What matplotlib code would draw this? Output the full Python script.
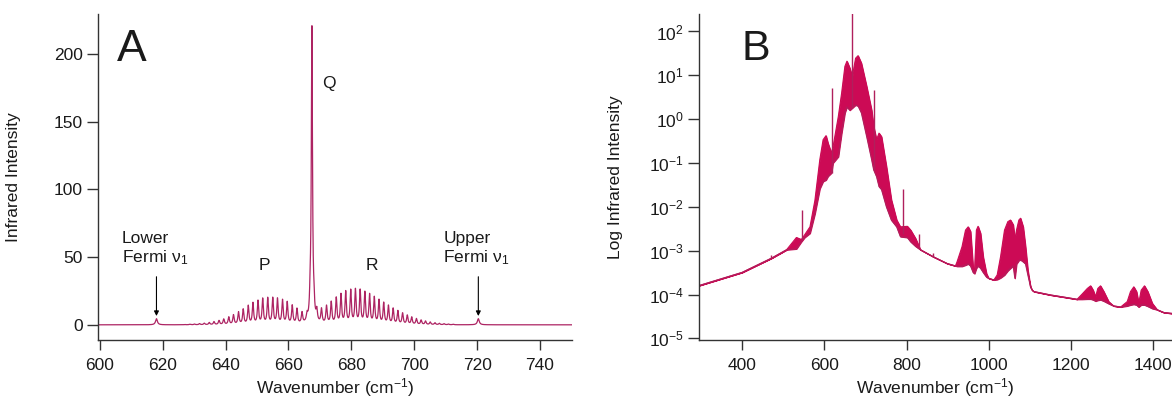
import matplotlib
matplotlib.use("Agg")
import matplotlib.pyplot as plt
import numpy as np
from matplotlib.ticker import NullLocator

plt.rcParams['font.family'] = ['Liberation Sans', 'DejaVu Sans']
plt.rcParams['mathtext.fontset'] = 'custom'
plt.rcParams['mathtext.rm'] = 'Liberation Sans'
plt.rcParams['mathtext.it'] = 'Liberation Sans:italic'

# ---- panel A: line list ----
p_wn = [665.9, 664.3, 662.7, 661.2, 659.6, 658.1, 656.5, 655.0, 653.4, 651.8,
        650.3, 648.7, 647.2, 645.6, 644.1, 642.5, 641.0, 639.4, 637.9, 636.3,
        634.8, 633.2, 631.7, 630.1, 628.6, 627.0]
p_int = [5.0, 8.0, 11.0, 13.5, 16.0, 17.5, 18.5, 19.0, 19.0, 18.5,
         17.0, 15.5, 13.5, 11.0, 9.0, 7.0, 5.5, 4.0, 3.0, 2.2,
         1.6, 1.1, 0.8, 0.5, 0.35, 0.2]
r_wn = [669.0, 670.5, 672.1, 673.6, 675.2, 676.7, 678.2, 679.8, 681.3, 682.8,
        684.3, 685.8, 687.3, 688.8, 690.3, 691.8, 693.3, 694.8, 696.3, 697.8,
        699.2, 700.7, 702.2, 703.6, 705.1, 706.6, 708.0, 709.5, 710.9, 712.4]
r_int = [8.0, 10.5, 13.0, 16.0, 19.0, 21.5, 23.5, 24.5, 25.0, 24.5,
         23.0, 21.5, 19.5, 17.5, 15.5, 13.5, 11.5, 9.8, 8.2, 6.7,
         5.4, 4.3, 3.3, 2.6, 1.9, 1.4, 1.0, 0.75, 0.5, 0.35]
q_wn = [666.9, 667.45, 668.1]
q_int = [12.0, 218.0, 9.0]
fermi_wn = [618.0, 720.4]
fermi_int = [4.5, 4.5]
a_xticks = [600, 620, 640, 660, 680, 700, 720, 740]
a_yticks = [0, 50, 100, 150, 200]

# ---- panel B: envelope of the dense log spectrum ----
b_wn = [295, 400, 472, 508, 532, 544, 552, 565, 577, 589, 597, 604, 609, 617, 621,
        634, 642, 650, 655, 662, 668, 676, 682, 690, 703, 715, 720, 727, 733, 739,
        751, 763, 776, 785, 802, 810, 822, 834, 866, 899, 919, 923, 935, 943.5, 950,
        955.7, 962, 965.4, 970, 974, 980, 986.5, 994.6, 1000, 1012.5, 1020.6, 1028.7,
        1038.4, 1046.5, 1053, 1059.5, 1063.6, 1067.6, 1073.3, 1077.4, 1083.8, 1089.5,
        1095.2, 1101.7, 1105.7, 1110, 1150, 1191, 1215, 1227, 1240, 1248, 1254, 1260,
        1265.5, 1272, 1280, 1292, 1304, 1321, 1337, 1345, 1353, 1359.6, 1365, 1371,
        1379, 1387, 1398, 1410, 1426, 1447]
b_hi = [1.6e-4, 3.2e-4, 6.8e-4, 1.05e-3, 2.0e-3, 1.8e-3, 2.3e-3, 3.5e-3, 1.4e-2, 0.12,
        0.34, 0.42, 0.28, 0.17, 0.23, 1.15, 3.9, 16, 21, 14.5, 9.3, 24.5, 28, 19, 5.5,
        1.6, 0.68, 0.34, 0.48, 0.40, 0.083, 0.0145, 5e-3, 3.5e-3, 3.6e-3, 2.95e-3,
        1.9e-3, 1.05e-3, 7.2e-4, 5.1e-4, 4.5e-4, 5.6e-4, 1.23e-3, 2.95e-3, 3.5e-3,
        2.75e-3, 4.0e-4, 3.6e-4, 2.95e-3, 3.6e-3, 2.5e-3, 7.2e-4, 3.0e-4, 2.35e-4,
        2.15e-4, 2.8e-4, 7.2e-4, 2.95e-3, 4.6e-3, 5.0e-3, 3.9e-3, 1.8e-3, 2.95e-3,
        5.0e-3, 5.5e-3, 3.5e-3, 1.23e-3, 3.6e-4, 1.5e-4, 1.26e-4, 1.17e-4, 9.8e-5,
        8.5e-5, 7.8e-5, 1.02e-4, 1.38e-4, 1.58e-4, 1.26e-4, 8.9e-5, 1.38e-4, 1.58e-4,
        1.17e-4, 6.9e-5, 5.5e-5, 5.2e-5, 6.9e-5, 1.17e-4, 1.5e-4, 1.17e-4, 6.3e-5,
        1.26e-4, 1.58e-4, 1.17e-4, 6.3e-5, 4.5e-5, 3.9e-5, 3.7e-5]
b_lo = [1.6e-4, 3.2e-4, 6.8e-4, 1.05e-3, 1.1e-3, 1.6e-3, 2.0e-3, 2.5e-3, 7.0e-3, 0.026,
        0.038, 0.041, 0.05, 0.059, 0.1, 0.14, 0.48, 1.4, 1.9, 1.6, 1.8, 2.1, 2.0, 1.4,
        0.4, 0.12, 0.07, 0.049, 0.029, 0.025, 0.01, 5.0e-3, 3.5e-3, 2.1e-3, 2.0e-3,
        1.6e-3, 1.26e-3, 1.05e-3, 7.2e-4, 5.1e-4, 4.5e-4, 4.4e-4, 4.4e-4, 4.7e-4,
        5.0e-4, 4.5e-4, 3.2e-4, 3.0e-4, 4.0e-4, 4.5e-4, 4.0e-4, 3.2e-4, 2.5e-4,
        2.35e-4, 2.15e-4, 2.2e-4, 2.4e-4, 2.8e-4, 3.5e-4, 4.0e-4, 4.5e-4, 2.35e-4,
        5.0e-4, 6.0e-4, 6.2e-4, 5.6e-4, 5.0e-4, 2.8e-4, 1.5e-4, 1.26e-4, 1.17e-4,
        9.8e-5, 8.5e-5, 7.8e-5, 7.8e-5, 7.9e-5, 7.9e-5, 7.6e-5, 7.1e-5, 7.4e-5, 7.6e-5,
        7.1e-5, 6.2e-5, 5.5e-5, 5.2e-5, 5.5e-5, 5.8e-5, 6.0e-5, 5.8e-5, 5.2e-5, 5.8e-5,
        5.8e-5, 5.4e-5, 4.8e-5, 4.5e-5, 3.9e-5, 3.7e-5]
spike_wn = [471, 545, 618, 667.5, 720, 791, 830, 865]
spike_base = [6.8e-4, 1.8e-3, 0.06, 1.8, 0.07, 2.4e-3, 1.2e-3, 7.2e-4]
spike_top = [8.0e-4, 8.5e-3, 5.1, 300, 4.7, 0.025, 2.4e-3, 9.0e-4]
b_xticks = [400, 600, 800, 1000, 1200, 1400]
b_yticks = [1e-5, 1e-4, 1e-3, 1e-2, 1e-1, 1e0, 1e1, 1e2]
b_ylabels = ['10$^{-5}$', '10$^{-4}$', '10$^{-3}$', '10$^{-2}$', '10$^{-1}$',
             '10$^{0}$', '10$^{1}$', '10$^{2}$']

line_a = '#ad2463'
fill_b = '#cc0a55'
spike_c = '#b0205c'
ink = '#1a1a1a'
fs = 12.5

fig = plt.figure(figsize=(11.72, 4.04), dpi=100)
ax1 = fig.add_axes([98 / 1172, 1 - 340 / 404, 474 / 1172, 326 / 404])
ax2 = fig.add_axes([699 / 1172, 1 - 340 / 404, 473 / 1172, 326 / 404])

# panel A trace: each read line drawn as a narrow Lorentzian
wn = np.arange(599.0, 751.0, 0.02)
spec = np.zeros_like(wn)
for centers, heights, hw in [(p_wn, p_int, 0.25), (r_wn, r_int, 0.25),
                             (q_wn, q_int, 0.22), (fermi_wn, fermi_int, 0.35)]:
    for c, h in zip(centers, heights):
        spec += h / (1 + ((wn - c) / hw) ** 2)
ax1.plot(wn, spec, color=line_a, lw=0.9)

ax1.set_xlim(599.4, 750.2)
ax1.set_ylim(-11.2, 229.5)
ax1.set_xticks(a_xticks)
ax1.set_yticks(a_yticks)
ax1.set_ylabel('Infrared Intensity', fontsize=fs, color=ink)
ax1.set_xlabel('Wavenumber (cm$^{-1}$)', fontsize=fs, color=ink)
ax1.yaxis.set_label_coords(-0.162, 0.5)
ax1.xaxis.set_label_coords(0.5, -0.112)

ax1.text(0.04, 0.955, 'A', transform=ax1.transAxes, fontsize=32, va='top', ha='left', color=ink)
ax1.text(670.8, 178.5, 'Q', fontsize=fs, va='center', ha='left', color=ink)
ax1.text(652.2, 43.5, 'P', fontsize=fs, va='center', ha='center', color=ink)
ax1.text(686.5, 43.5, 'R', fontsize=fs, va='center', ha='center', color=ink)
ax1.text(607.0, 69.0, 'Lower\nFermi ν$_1$', fontsize=fs, va='top', ha='left',
         color=ink, linespacing=1.15)
ax1.text(709.2, 69.0, 'Upper\nFermi ν$_1$', fontsize=fs, va='top', ha='left',
         color=ink, linespacing=1.15)
for xa in fermi_wn:
    ax1.annotate('', xy=(xa, 6.5), xytext=(xa, 35.5),
                 arrowprops=dict(arrowstyle='-|>', color='k', lw=0.8,
                                 mutation_scale=7, shrinkA=0, shrinkB=0))

# panel B
ax2.set_yscale('log')
ax2.fill_between(b_wn, b_lo, b_hi, color=fill_b, lw=0.8, edgecolor=fill_b)
ax2.plot(b_wn, b_hi, color=fill_b, lw=0.8)
ax2.plot(b_wn, b_lo, color=spike_c, lw=0.8)
ax2.vlines(spike_wn, spike_base, spike_top, color=spike_c, lw=1.0)
ax2.set_xlim(295, 1446)
ax2.set_ylim(0.92e-5, 250)
ax2.set_xticks(b_xticks)
ax2.set_yticks(b_yticks, b_ylabels)
ax2.yaxis.set_minor_locator(NullLocator())
ax2.set_ylabel('Log Infrared Intensity', fontsize=fs, color=ink)
ax2.set_xlabel('Wavenumber (cm$^{-1}$)', fontsize=fs, color=ink)
ax2.yaxis.set_label_coords(-0.161, 0.5)
ax2.xaxis.set_label_coords(0.5, -0.112)
ax2.text(0.09, 0.955, 'B', transform=ax2.transAxes, fontsize=31, va='top', ha='left', color=ink)

for ax in (ax1, ax2):
    for s in ('top', 'right'):
        ax.spines[s].set_visible(False)
    for s in ('left', 'bottom'):
        ax.spines[s].set_color('#333333')
        ax.spines[s].set_linewidth(1.0)
    ax.tick_params(axis='both', which='major', direction='out', length=8, width=1.0,
                   color='#333333', labelsize=fs, labelcolor=ink)
    ax.tick_params(axis='y', which='major', pad=3)
    ax.tick_params(axis='x', which='major', length=7, pad=6)
    ax.tick_params(axis='both', which='minor', length=0)

fig.savefig('out.png', dpi=100)
